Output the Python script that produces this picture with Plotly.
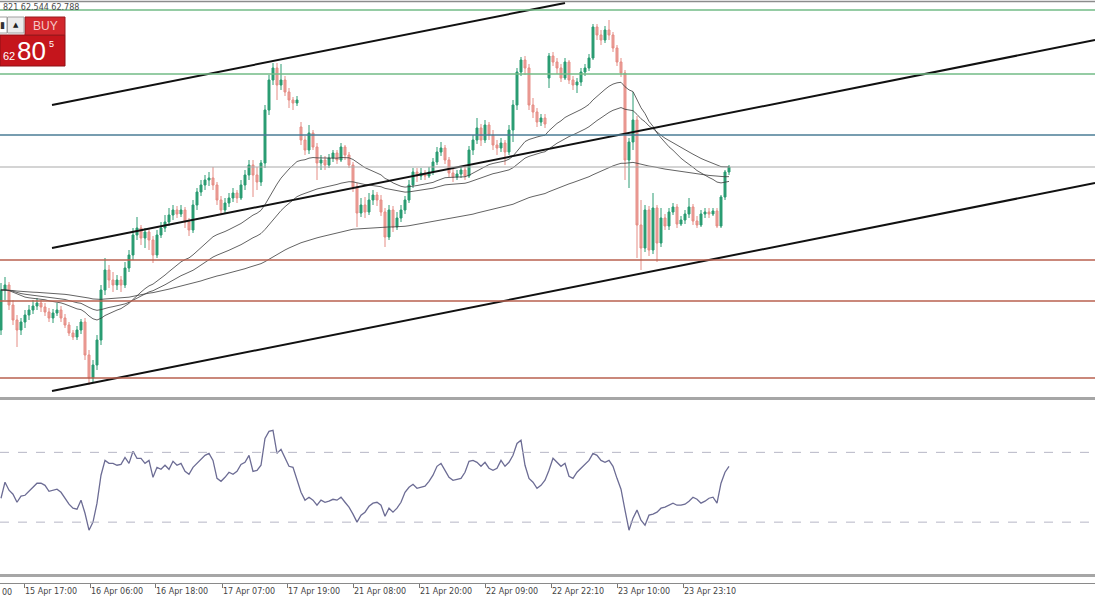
import pandas as pd
import plotly.graph_objects as go

# ---------------- data (prices) ----------------
open_ = [62.638, 62.678, 62.683, 62.663, 62.648, 62.638, 62.646, 62.653, 62.658, 62.662,
         62.665, 62.661, 62.656, 62.650, 62.655, 62.658, 62.650, 62.643, 62.635, 62.631,
         62.638, 62.646, 62.613, 62.590, 62.603, 62.628, 62.678, 62.698, 62.688, 62.683,
         62.688, 62.683, 62.700, 62.713, 62.733, 62.740, 62.730, 62.736, 62.728, 62.713,
         62.733, 62.740, 62.746, 62.753, 62.758, 62.754, 62.758, 62.746, 62.738, 62.763,
         62.776, 62.783, 62.788, 62.790, 62.783, 62.768, 62.758, 62.765, 62.770, 62.775,
         62.770, 62.783, 62.793, 62.803, 62.793, 62.786, 62.805, 62.858, 62.888, 62.900,
         62.883, 62.888, 62.876, 62.868, 62.865, 62.841, 62.828, 62.818, 62.835, 62.821,
         62.805, 62.808, 62.803, 62.810, 62.815, 62.808, 62.821, 62.813, 62.803, 62.781,
         62.755, 62.763, 62.756, 62.768, 62.773, 62.768, 62.756, 62.731, 62.758, 62.741,
         62.750, 62.758, 62.768, 62.783, 62.796, 62.792, 62.795, 62.792, 62.796, 62.806,
         62.816, 62.820, 62.808, 62.795, 62.791, 62.794, 62.798, 62.792, 62.818, 62.828,
         62.840, 62.828, 62.843, 62.833, 62.823, 62.820, 62.825, 62.816, 62.838, 62.863,
         62.896, 62.908, 62.900, 62.863, 62.856, 62.846, 62.850, 62.890, 62.912, 62.906,
         62.900, 62.890, 62.906, 62.888, 62.883, 62.886, 62.896, 62.900, 62.910, 62.941,
         62.933, 62.928, 62.938, 62.933, 62.920, 62.906, 62.895, 62.808, 62.826, 62.848,
         62.743, 62.720, 62.758, 62.718, 62.760, 62.725, 62.750, 62.742, 62.756, 62.761,
         62.744, 62.748, 62.754, 62.761, 62.747, 62.743, 62.754, 62.756, 62.754, 62.757,
         62.742, 62.771, 62.796]

high = [62.685, 62.691, 62.686, 62.668, 62.653, 62.650, 62.658, 62.663, 62.668, 62.670,
        62.668, 62.665, 62.660, 62.659, 62.665, 62.662, 62.654, 62.646, 62.638, 62.642,
        62.649, 62.650, 62.618, 62.608, 62.633, 62.683, 62.710, 62.703, 62.696, 62.693,
        62.692, 62.706, 62.718, 62.740, 62.751, 62.743, 62.740, 62.740, 62.732, 62.738,
        62.746, 62.753, 62.760, 62.763, 62.762, 62.763, 62.761, 62.750, 62.768, 62.780,
        62.788, 62.793, 62.796, 62.801, 62.786, 62.772, 62.770, 62.775, 62.780, 62.778,
        62.788, 62.798, 62.808, 62.808, 62.801, 62.808, 62.863, 62.893, 62.905, 62.905,
        62.904, 62.892, 62.880, 62.871, 62.872, 62.846, 62.832, 62.843, 62.838, 62.825,
        62.813, 62.812, 62.814, 62.818, 62.818, 62.825, 62.823, 62.816, 62.806, 62.785,
        62.770, 62.771, 62.775, 62.778, 62.776, 62.773, 62.760, 62.763, 62.762, 62.756,
        62.763, 62.772, 62.788, 62.800, 62.800, 62.800, 62.798, 62.801, 62.810, 62.821,
        62.826, 62.823, 62.811, 62.800, 62.798, 62.802, 62.802, 62.822, 62.833, 62.850,
        62.844, 62.848, 62.846, 62.838, 62.828, 62.830, 62.828, 62.843, 62.868, 62.900,
        62.911, 62.912, 62.904, 62.870, 62.860, 62.854, 62.854, 62.915, 62.916, 62.910,
        62.904, 62.910, 62.908, 62.892, 62.890, 62.900, 62.904, 62.914, 62.944, 62.944,
        62.938, 62.942, 62.948, 62.936, 62.923, 62.910, 62.898, 62.830, 62.876, 62.852,
        62.768, 62.763, 62.762, 62.775, 62.763, 62.760, 62.754, 62.760, 62.765, 62.764,
        62.752, 62.758, 62.770, 62.764, 62.752, 62.758, 62.760, 62.760, 62.760, 62.760,
        62.773, 62.798, 62.803]

low = [62.633, 62.668, 62.658, 62.643, 62.621, 62.633, 62.640, 62.648, 62.654, 62.658,
       62.656, 62.652, 62.646, 62.645, 62.652, 62.646, 62.640, 62.632, 62.628, 62.628,
       62.634, 62.608, 62.583, 62.586, 62.598, 62.623, 62.673, 62.680, 62.676, 62.678,
       62.676, 62.680, 62.696, 62.708, 62.728, 62.723, 62.720, 62.718, 62.705, 62.710,
       62.730, 62.736, 62.742, 62.748, 62.750, 62.751, 62.740, 62.732, 62.735, 62.758,
       62.772, 62.778, 62.782, 62.778, 62.763, 62.753, 62.754, 62.761, 62.766, 62.765,
       62.768, 62.778, 62.788, 62.771, 62.778, 62.782, 62.800, 62.853, 62.883, 62.868,
       62.878, 62.872, 62.860, 62.858, 62.862, 62.823, 62.813, 62.814, 62.818, 62.788,
       62.798, 62.798, 62.800, 62.806, 62.804, 62.806, 62.808, 62.800, 62.776, 62.741,
       62.751, 62.750, 62.753, 62.763, 62.762, 62.752, 62.721, 62.728, 62.736, 62.738,
       62.746, 62.754, 62.765, 62.780, 62.786, 62.788, 62.788, 62.790, 62.793, 62.803,
       62.812, 62.804, 62.791, 62.786, 62.788, 62.790, 62.788, 62.790, 62.813, 62.824,
       62.822, 62.825, 62.828, 62.818, 62.813, 62.816, 62.803, 62.813, 62.826, 62.858,
       62.892, 62.893, 62.858, 62.850, 62.841, 62.842, 62.840, 62.880, 62.902, 62.894,
       62.886, 62.888, 62.884, 62.878, 62.875, 62.882, 62.892, 62.897, 62.908, 62.928,
       62.923, 62.925, 62.928, 62.916, 62.902, 62.891, 62.788, 62.780, 62.818, 62.710,
       62.698, 62.716, 62.712, 62.714, 62.706, 62.721, 62.738, 62.738, 62.753, 62.740,
       62.742, 62.744, 62.750, 62.743, 62.740, 62.741, 62.750, 62.750, 62.752, 62.740,
       62.740, 62.768, 62.793]

close = [62.678, 62.683, 62.663, 62.648, 62.638, 62.646, 62.653, 62.658, 62.662, 62.665,
         62.661, 62.656, 62.650, 62.655, 62.658, 62.650, 62.643, 62.635, 62.631, 62.638,
         62.646, 62.613, 62.590, 62.603, 62.628, 62.678, 62.698, 62.688, 62.683, 62.688,
         62.683, 62.700, 62.713, 62.733, 62.740, 62.730, 62.736, 62.728, 62.713, 62.733,
         62.740, 62.746, 62.753, 62.758, 62.754, 62.758, 62.746, 62.738, 62.763, 62.776,
         62.783, 62.788, 62.790, 62.783, 62.768, 62.758, 62.765, 62.770, 62.775, 62.770,
         62.783, 62.793, 62.803, 62.793, 62.786, 62.805, 62.858, 62.888, 62.900, 62.883,
         62.888, 62.876, 62.868, 62.865, 62.868, 62.828, 62.818, 62.835, 62.821, 62.805,
         62.808, 62.803, 62.810, 62.815, 62.808, 62.821, 62.813, 62.803, 62.781, 62.755,
         62.763, 62.756, 62.768, 62.773, 62.768, 62.756, 62.731, 62.758, 62.741, 62.750,
         62.758, 62.768, 62.783, 62.796, 62.792, 62.795, 62.792, 62.796, 62.806, 62.816,
         62.820, 62.808, 62.795, 62.791, 62.794, 62.798, 62.792, 62.818, 62.828, 62.840,
         62.828, 62.843, 62.833, 62.823, 62.820, 62.825, 62.816, 62.838, 62.863, 62.896,
         62.908, 62.900, 62.863, 62.856, 62.846, 62.850, 62.844, 62.912, 62.906, 62.900,
         62.890, 62.906, 62.888, 62.883, 62.886, 62.896, 62.900, 62.910, 62.941, 62.933,
         62.928, 62.938, 62.933, 62.920, 62.906, 62.895, 62.808, 62.826, 62.848, 62.743,
         62.720, 62.758, 62.718, 62.760, 62.725, 62.750, 62.742, 62.756, 62.761, 62.744,
         62.748, 62.754, 62.761, 62.747, 62.743, 62.754, 62.756, 62.754, 62.757, 62.742,
         62.771, 62.796, 62.801]

# RSI values, one per bar
rsi = [43.7, 52.9, 48.3, 46.0, 41.4, 44.9, 45.4, 47.7, 50.0, 52.3,
       52.3, 51.1, 47.7, 48.3, 48.9, 47.1, 43.7, 40.3, 38.0, 37.4,
       42.6, 35.1, 25.4, 30.0, 40.9, 56.9, 65.4, 63.7, 63.7, 62.6,
       63.1, 67.1, 63.7, 70.6, 66.6, 66.6, 63.7, 65.4, 55.7, 61.4,
       60.3, 62.6, 60.3, 64.9, 62.6, 63.7, 59.1, 57.4, 61.4, 63.7,
       66.0, 68.3, 69.4, 65.4, 55.1, 53.4, 55.7, 58.6, 57.4, 59.1,
       63.1, 64.3, 68.3, 59.1, 59.7, 62.6, 78.0, 82.0, 82.6, 69.4,
       71.7, 66.6, 62.0, 61.4, 54.0, 47.1, 42.6, 44.3, 42.6, 39.7,
       42.6, 41.4, 42.0, 43.1, 42.6, 44.3, 41.4, 38.6, 34.6, 30.0,
       34.0, 35.7, 39.1, 40.9, 41.4, 39.7, 33.4, 38.0, 35.7, 38.0,
       41.4, 47.1, 50.0, 51.7, 49.4, 50.0, 50.6, 53.4, 56.9, 62.0,
       63.7, 59.7, 55.7, 54.0, 54.6, 55.1, 58.6, 64.9, 65.4, 64.3,
       62.0, 64.3, 60.9, 59.7, 60.9, 65.4, 62.0, 64.3, 68.3, 75.1,
       76.9, 62.6, 55.1, 52.9, 49.4, 51.1, 54.0, 59.7, 66.6, 64.3,
       62.0, 63.7, 56.3, 55.1, 58.6, 60.9, 63.1, 65.4, 69.4, 68.3,
       65.4, 64.3, 65.4, 62.0, 55.1, 48.9, 36.9, 25.4, 32.3, 36.9,
       31.1, 28.3, 34.0, 34.6, 35.7, 38.0, 38.6, 39.7, 40.9, 39.7,
       39.7, 40.3, 42.0, 44.3, 43.1, 40.9, 42.0, 43.7, 44.3, 40.9,
       52.3, 58.6, 62.0]

bars = list(range(len(close)))

tick_pos = [5.75, 22.25, 38.5, 55.25, 71.5, 88, 104.5, 121, 137.5, 154, 170.5]
tick_text = ["15 Apr 17:00", "16 Apr 06:00", "16 Apr 18:00", "17 Apr 07:00",
             "17 Apr 19:00", "21 Apr 08:00", "21 Apr 20:00", "22 Apr 09:00",
             "22 Apr 22:10", "23 Apr 10:00", "23 Apr 23:10"]

green_levels = [62.958, 62.894]
blue_levels = [62.833]
red_levels = [62.708, 62.667, 62.590]
bid_level = 62.801

channel_top_x = [12.75, 141.0]
channel_top_y = [62.863, 62.965]
channel_mid_x = [12.75, 273.5]
channel_mid_y = [62.720, 62.928]
channel_low_x = [12.75, 273.5]
channel_low_y = [62.577, 62.785]

ma_periods = [34, 60, 150]
rsi_levels = [70, 30]

# ---------------- moving averages ----------------
s = pd.Series(close)
mas = [s.ewm(span=p, adjust=False).mean() for p in ma_periods]

# ---------------- figure ----------------
W, H = 1095, 600


def px(x):
    return x / W


def py(y):
    return 1 - y / H


fig = go.Figure()

fig.add_trace(go.Candlestick(
    x=bars, open=open_, high=high, low=low, close=close,
    xaxis="x", yaxis="y",
    increasing=dict(line=dict(color="#2a9c72", width=1), fillcolor="#2a9c72"),
    decreasing=dict(line=dict(color="#e58c84", width=1), fillcolor="#eea49d"),
    whiskerwidth=0, showlegend=False, hoverinfo="skip"))

for m in mas:
    fig.add_trace(go.Scatter(x=bars, y=m, mode="lines", xaxis="x", yaxis="y",
                             line=dict(color="rgba(60,60,60,0.8)", width=1),
                             showlegend=False, hoverinfo="skip"))

for cx, cy in [(channel_top_x, channel_top_y), (channel_mid_x, channel_mid_y),
               (channel_low_x, channel_low_y)]:
    fig.add_trace(go.Scatter(x=cx, y=cy, mode="lines", xaxis="x", yaxis="y",
                             line=dict(color="#111111", width=2),
                             showlegend=False, hoverinfo="skip"))

fig.add_trace(go.Scatter(x=bars, y=rsi, mode="lines", xaxis="x", yaxis="y2",
                         line=dict(color="#6c6c94", width=1.3),
                         showlegend=False, hoverinfo="skip"))

shapes = []
for v in green_levels:
    shapes.append(dict(type="line", xref="paper", x0=0, x1=1, yref="y", y0=v, y1=v,
                       line=dict(color="#72bb86", width=1.3)))
for v in blue_levels:
    shapes.append(dict(type="line", xref="paper", x0=0, x1=1, yref="y", y0=v, y1=v,
                       line=dict(color="#4a7d96", width=1.5)))
for v in red_levels:
    shapes.append(dict(type="line", xref="paper", x0=0, x1=1, yref="y", y0=v, y1=v,
                       line=dict(color="#b9604f", width=1.3)))
shapes.append(dict(type="line", xref="paper", x0=0, x1=1, yref="y", y0=bid_level,
                   y1=bid_level, line=dict(color="#a9a9a9", width=1)))
for v in rsi_levels:
    shapes.append(dict(type="line", xref="paper", x0=0, x1=1, yref="y2", y0=v, y1=v,
                       line=dict(color="#b6b6c6", width=1, dash="dash")))

# panel separators / borders
shapes.append(dict(type="line", xref="paper", yref="paper", x0=0, x1=1,
                   y0=py(1.5), y1=py(1.5), line=dict(color="#8c8c8c", width=1.5)))
shapes.append(dict(type="line", xref="paper", yref="paper", x0=0, x1=1,
                   y0=py(398.5), y1=py(398.5), line=dict(color="#a6a6a6", width=3)))
shapes.append(dict(type="line", xref="paper", yref="paper", x0=0, x1=1,
                   y0=py(575.5), y1=py(575.5), line=dict(color="#a6a6a6", width=3)))

# one-click trading panel
shapes.append(dict(type="rect", xref="paper", yref="paper", x0=px(0), x1=px(65),
                   y0=py(66), y1=py(35), fillcolor="#c5151c",
                   line=dict(color="#8e1015", width=1)))
shapes.append(dict(type="rect", xref="paper", yref="paper", x0=px(25), x1=px(65),
                   y0=py(35), y1=py(17), fillcolor="#d2272d",
                   line=dict(color="#9a1a1f", width=1)))
shapes.append(dict(type="rect", xref="paper", yref="paper", x0=px(7.5), x1=px(24),
                   y0=py(33), y1=py(17), fillcolor="#ececec",
                   line=dict(color="#a0a0a0", width=1)))
shapes.append(dict(type="rect", xref="paper", yref="paper", x0=px(-1), x1=px(7),
                   y0=py(33), y1=py(17), fillcolor="#ffffff",
                   line=dict(color="#a0a0a0", width=1)))


def label(text, x, y, size, color, family="Liberation Sans", xanchor="center"):
    return dict(text=text, x=px(x), y=py(y), xref="paper", yref="paper",
                xanchor=xanchor, yanchor="middle", showarrow=False,
                font=dict(family=family, size=size, color=color))


annotations = [
    label("BUY", 45, 26, 12, "#f6c8c8"),
    label("▲", 15.8, 25, 7, "#222222", "DejaVu Sans"),
    label("▮", 2.5, 25, 9, "#333333", "DejaVu Sans"),
    label("62", 9, 56, 11, "#ffffff"),
    label("80", 31.5, 51, 26, "#ffffff"),
    label("5", 51, 44, 9, "#ffffff"),
    label("821 62.544 62.788", 1, 7, 8, "#4a4a4a", "DejaVu Sans", "left"),
    label("00", 0, 592, 8, "#444444", "DejaVu Sans", "left"),
]

fig.update_layout(
    width=W, height=H,
    margin=dict(l=0, r=0, t=0, b=0),
    paper_bgcolor="#ffffff", plot_bgcolor="#ffffff",
    showlegend=False,
    shapes=shapes,
    annotations=annotations,
    xaxis=dict(range=[-0.25, 273.5], domain=[0, 1], anchor="free", position=py(583),
               showgrid=False, zeroline=False, showline=True, linecolor="#8a8a8a",
               linewidth=1, ticks="outside", ticklen=4, tickcolor="#777777",
               tickvals=tick_pos, ticktext=tick_text,
               ticklabelposition="outside right",
               tickfont=dict(family="DejaVu Sans", size=8, color="#444444"),
               rangeslider=dict(visible=False), fixedrange=True),
    yaxis=dict(domain=[py(398), 1], range=[62.570, 62.968], showgrid=False,
               zeroline=False, showticklabels=False, showline=False, fixedrange=True),
    yaxis2=dict(domain=[py(574.5), py(400)], range=[0, 100], showgrid=False,
                zeroline=False, showticklabels=False, showline=False, fixedrange=True),
)

fig.write_html("out.html",
               config={"displayModeBar": False},
               post_script="document.body.style.margin='0px';"
                           "document.body.style.padding='0px';"
                           "document.body.style.overflow='hidden';")
